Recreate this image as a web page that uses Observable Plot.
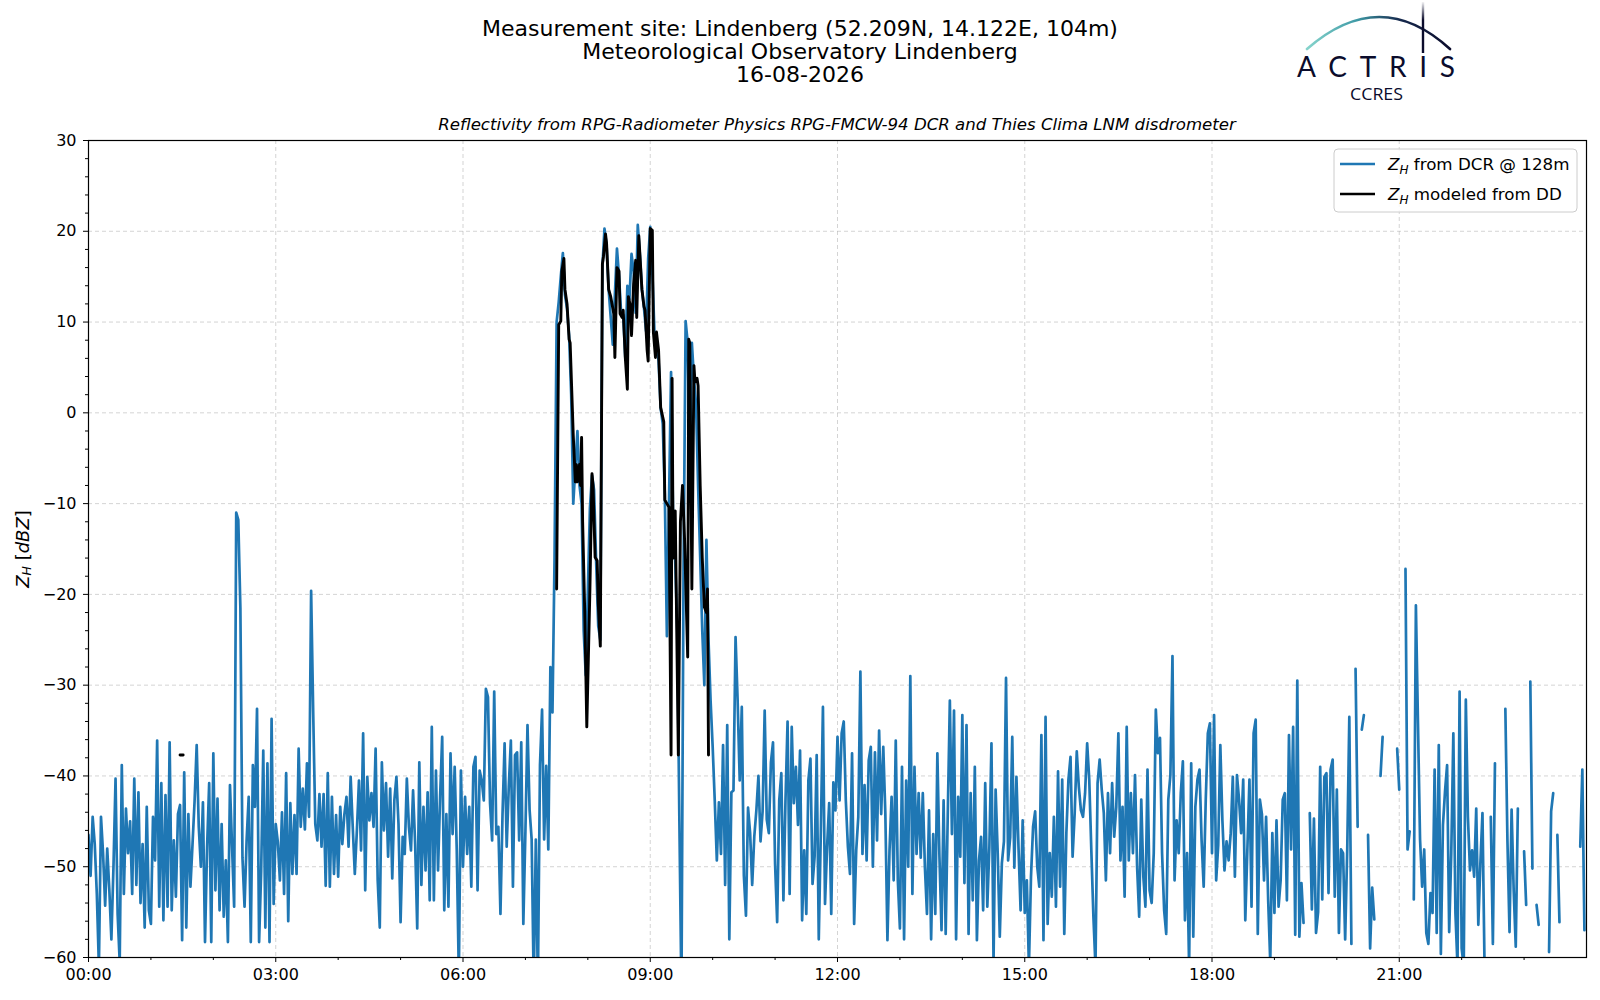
<!DOCTYPE html>
<html>
<head>
<meta charset="utf-8">
<script src="https://cdn.jsdelivr.net/npm/d3@7"></script>
<script src="https://cdn.jsdelivr.net/npm/@observablehq/plot@0.6"></script>
<style>
  html, body { margin: 0; padding: 0; background: #fff; }
  #page { position: relative; width: 1600px; height: 1000px; font-family: "DejaVu Sans", sans-serif; color: #000; }
  #title { position: absolute; left: 0; top: 17px; width: 1600px; text-align: center; font-size: 22px; line-height: 23px; }
  #subtitle { position: absolute; left: 88px; width: 1498px; top: 116px; text-align: center; font-size: 16.6px; line-height: 18px; font-style: italic; z-index: 2; }
  #logo { position: absolute; left: 1280px; top: 0; }
  #chart { position: absolute; left: 0; top: 130px; z-index: 1; }
</style>
</head>
<body>
<div id="page">
  <div id="title">Measurement site: Lindenberg (52.209N, 14.122E, 104m)<br>Meteorological Observatory Lindenberg<br>16-08-2026</div>
  <svg id="logo" width="200" height="110" viewBox="0 0 200 110">
    <defs>
      <linearGradient id="arcg" x1="27" y1="0" x2="170" y2="0" gradientUnits="userSpaceOnUse">
        <stop offset="0" stop-color="#86d4cc"/>
        <stop offset="0.35" stop-color="#3f9aa6"/>
        <stop offset="0.65" stop-color="#16294d"/>
        <stop offset="1" stop-color="#0b0c2c"/>
      </linearGradient>
      <linearGradient id="vg" x1="0" y1="2" x2="0" y2="53" gradientUnits="userSpaceOnUse">
        <stop offset="0" stop-color="#0b0c2c" stop-opacity="0.05"/>
        <stop offset="0.35" stop-color="#0b0c2c" stop-opacity="1"/>
        <stop offset="1" stop-color="#0b0c2c" stop-opacity="1"/>
      </linearGradient>
    </defs>
    <path d="M27 49 Q100 -15 170 49" fill="none" stroke="url(#arcg)" stroke-width="2.6" stroke-linecap="round"/>
    <line x1="143" y1="2" x2="143" y2="53" stroke="url(#vg)" stroke-width="2.4"/>
    <text x="17" y="77" font-family="Lato, 'Open Sans', sans-serif" font-size="28" fill="#0b0c2c" textLength="158" lengthAdjust="spacing">ACTRIS</text>
    <text x="70" y="100" font-family="'Open Sans', Lato, sans-serif" font-size="17" fill="#0b0c2c" textLength="53" lengthAdjust="spacingAndGlyphs">CCRES</text>
  </svg>
  <div id="subtitle">Reflectivity from RPG-Radiometer Physics RPG-FMCW-94 DCR and Thies Clima LNM disdrometer</div>
  <div id="chart"></div>
</div>
<script>
// ---------------- data ----------------
// Z_H from DCR @ 128m, one value every 2 minutes starting 00:00 (null = no data)
const dcrStepMinutes = 2;
const dcrValues = [
  // 00:00
  -46.5, -51, -44.5, -47.5, -53, -61, -44.5, -48.5, -54.3, -48, -52.5, -58, -50, -40.3, -55.2, -60.5, -38.8, -53, -43.6, -48.5, -45, -53, -40.3, -52, -41.8, -54, -47.5, -56.7, -43.4, -54.8,
  // 01:00
  -56.3, -44.5, -49.3, -36.1, -54.4, -40.8, -55.9, -42.1, -54.4, -36.3, -54.8, -47.1, -53.3, -44.2, -43.2, -58.1, -39.6, -56.7, -44.2, -52.2, -47.5, -42.7, -36.6, -45.6, -50, -42.9, -58.3, -47.8, -40.8, -58.3,
  // 02:00
  -37.5, -52.6, -42.5, -54.8, -45.3, -55.5, -49.3, -58.3, -41, -47.8, -54.4, -11, -11.8, -21.5, -49, -54.4, -47.1, -42.3, -58.3, -38.8, -43.4, -32.6, -58.3, -50.4, -37.2, -56.7, -38.6, -58.3, -33.7, -54.1,
  // 03:00
  -45.3, -47.3, -51.5, -44, -53, -39.7, -56, -43, -50.8, -44.3, -50.8, -37, -45.6, -41.4, -45.9, -38.6, -44.5, -19.6, -33, -45.3, -47.1, -42, -47.8, -42, -52.1, -39.7, -52.2, -42.3, -50.8, -44.3,
  // 04:00
  -51.1, -43.4, -47.5, -44.2, -42.3, -47.8, -40.1, -45.6, -50.8, -46, -40.5, -48.2, -35.3, -52.6, -40.1, -44.9, -41.9, -45.6, -37, -51.5, -56.7, -38.5, -46, -40.8, -48.9, -41.4, -51.3, -42.7, -40.1, -45.3,
  // 05:00
  -56.1, -46.7, -48.6, -40.3, -45.6, -48.2, -41.6, -47.5, -56.8, -38.5, -52, -43.4, -50.4, -41.8, -53.7, -34.6, -53.7, -39.4, -50.4, -42.3, -35.7, -54.8, -44.2, -54.4, -37.5, -46.4, -39, -48.2, -62, -39.4,
  // 06:00
  -50, -42.3, -48.6, -43.4, -52.2, -39, -37.9, -52.6, -39.4, -40.5, -42.7, -30.4, -31.3, -43, -47.1, -30.7, -46.4, -45.6, -55.2, -44.2, -36.4, -47.8, -41.2, -36.1, -52.2, -37.7, -37.4, -47.1, -36.3, -56.3,
  // 07:00
  -46.1, -34.4, -43.7, -47, -63, -47, -63, -38.8, -32.7, -47, -38.9, -48.1, -28, -33, -16, 10, 12.2, 15, 17.6, 13, 11.5, 8.5, 2, -10, -6, -2, -8, -10, -24, -28.9,
  // 08:00
  -19.8, -10.5, -6.9, -8.5, -16.5, -23.5, -25, 16, 20.3, 18.5, 13.6, 10.5, 7.5, 13, 18.1, 15, 11, 10.8, 6.1, 14, 12.5, 17.5, 15.6, 11, 20.7, 17.5, 13.6, 11.5, 9, 17,
  // 09:00
  20.5, 15.6, 9, 8, 5.7, 0.5, -1.2, -9, -24.6, -10, 4.5, -12, -16.3, -24, -45, -64, -17.1, 10.1, 7.7, -6, 7.7, 3.8, 1, -8, -15.9, -24, -30, -14, -25, -31.7,
  // 10:00
  -36.8, -42.7, -49.3, -42.9, -48.6, -36.6, -52, -34.4, -58, -41.8, -41.6, -24.7, -31.7, -40.5, -32.4, -51, -55.4, -43.5, -46.3, -52, -46.7, -43.8, -40, -47.2, -43.9, -32.8, -44.8, -46.3, -38.5, -36.3,
  // 11:00
  -49.7, -56.1, -42.7, -39.7, -53.7, -42.7, -34, -53, -34.6, -43, -39, -45.4, -37.2, -55.9, -48.2, -55.2, -40.5, -38.1, -51.9, -48.9, -37.7, -58, -46, -32.4, -54.1, -47.8, -43, -55.2, -40.7, -43.8,
  // 12:00
  -35.7, -42.7, -35.3, -34, -42.7, -47.8, -50.8, -37.5, -56.3, -48.2, -44.5, -28.5, -48.6, -41, -49.3, -38.3, -36.8, -50, -37.4, -47.1, -35, -44.2, -36.8, -44.2, -58.1, -48.2, -42.3, -51.5, -36.1, -51.5,
  // 13:00
  -56.8, -39, -58, -40.5, -50, -29, -53, -39, -48.6, -41.9, -49, -41.9, -50, -55.2, -43.8, -58, -46.4, -55.2, -37.5, -48.9, -57, -42.7, -57.4, -44.2, -31.7, -46.4, -32.8, -58, -42.3, -48.9,
  // 14:00
  -33.3, -51.8, -34.4, -57.4, -41.9, -53.7, -39, -58.1, -49.3, -46.7, -54.8, -40.8, -54.4, -47.8, -36.4, -60.5, -41.5, -48.5, -57.7, -49.6, -47.2, -29.2, -49.3, -46.8, -35.7, -50.1, -40.1, -47.9, -54.8, -44.9,
  // 15:00
  -55.1, -51.5, -61, -51.1, -45.6, -43.9, -50, -52.2, -35.5, -58.1, -33.5, -56.3, -48.5, -53.3, -44.5, -54.4, -39.5, -52.2, -40.4, -57.4, -46.3, -40.4, -37.9, -48.9, -44.1, -37.3, -41.2, -43.8, -44.5, -41.9,
  // 16:00
  -36.4, -40.4, -48.2, -55.5, -61, -40.8, -38.2, -41.5, -44.1, -51.5, -41.9, -48.5, -40.8, -46.7, -43.4, -35.3, -49.3, -43.4, -53.3, -34.6, -49.3, -41.9, -48.5, -39.9, -50, -55.5, -42.6, -51.1, -54.4, -39.3,
  // 17:00
  -52.6, -54, -48.5, -32.7, -37.5, -35.8, -48.5, -54.8, -57.4, -42.6, -39.9, -26.8, -51.5, -44.9, -48.5, -41.9, -38.4, -55.9, -48.5, -61, -38.6, -57.7, -43.4, -40.4, -39.3, -47.1, -52.2, -42.6, -35.3, -34.2,
  // 18:00
  -48.5, -33.3, -51.5, -47.6, -36.6, -44.9, -50.4, -47.2, -49.3, -46.3, -40.1, -51.1, -39.9, -42.6, -46.3, -40.4, -55.9, -48.1, -40.4, -54.4, -35.3, -33.8, -57.4, -42.6, -44.2, -51.5, -44.5, -53.7, -60.5, -46.3,
  // 19:00
  -55.1, -44.9, -54.4, -51.5, -42.6, -41.9, -53.7, -35.5, -48.1, -34.6, -57.5, -29.5, -57.7, -51.8, -56.2, null, null, -44.1, -54.7, -44.7, -57.3, -55, -39, -53.6, -40.1, -39.7, -52.9, -39.3, -38.2, -53.3,
  // 20:00
  -41.5, -57.3, -48.1, -48.5, -58, -48.1, -33.5, -58.5, null, -28.2, -45.6, null, -34.9, -33.3, null, -46.5, -59, -52.3, -55.8, null, null, -40, -35.7, null, null, null, null, null, null, -37,
  // 21:00
  -41.5, null, null, -17.2, -48.1, -46.1, null, -53.6, -21.2, -34.2, -47, -52.2, -48.1, -57.3, -58.5, -52.9, -55.1, -39.3, -57.3, -36.6, -59.6, -45.4, -41.7, -38.8, -57.2, -48.5, -35.3, -55.1, -61, -30.7,
  // 22:00
  -59, -61, -31.6, -44.5, -50.4, -48.2, -51.1, -43.6, -56.4, -49.6, -44.1, -61, null, null, -44.5, -58.5, -38.6, null, null, null, null, -32.6, -47.1, -57.2, -43.7, -52.6, -58.8, -43.6, null, null,
  // 23:00
  -48.3, -54.2, null, -29.6, -50.2, null, -54.2, -56.4, null, null, null, null, -59.4, -43.9, -41.9, null, -46.5, -56.1, null, null, null, null, null, null, null, null, null, -47.8, -39.3, -57
];

// Z_H modeled from disdrometer (DD): times and values (null = break)
const ddTimes = [
  "01:28", "01:31", "07:29",
  "07:30", "07:32", "07:34", "07:35", "07:37", "07:38", "07:40", "07:42", "07:43", "07:46", "07:48", "07:49", "07:50", "07:52", "07:53", "07:54", "07:55", "07:57", "07:59",
  "08:02", "08:04", "08:05", "08:07", "08:09", "08:10", "08:12", "08:14", "08:15", "08:17", "08:18", "08:20", "08:22", "08:25", "08:26", "08:28", "08:30", "08:31", "08:33", "08:34", "08:36", "08:38", "08:39", "08:41", "08:42", "08:44", "08:46", "08:47", "08:49", "08:52", "08:54", "08:55", "08:57", "08:58",
  "09:00", "09:02", "09:03", "09:05", "09:06", "09:08", "09:10", "09:13", "09:14", "09:16", "09:18", "09:20", "09:21", "09:22", "09:24", "09:27", "09:29", "09:31", "09:33", "09:36", "09:37", "09:38", "09:40", "09:42", "09:43", "09:45", "09:46", "09:48", "09:50", "09:52", "09:54", "09:55", "09:56"
];
const ddValues = [
  -37.7, -37.7, null,
  -19.4, 9.7, 10.1, 15.6, 17, 13.6, 12, 8.1, 7.7, -2.5, -7.6, -5.7, -7.6, -5.7, -8, -2.7, -12, -21.8, -34.6,
  -19.4, -6.7, -8, -15.9, -16.3, -21, -25.7, 16.4, 17.2, 19.7, 18.7, 13.6, 12.8, 10.9, 6.1, 16, 15.6, 10.9, 10.5, 11.3, 6.1, 2.6, 12.8, 11.7, 8.5, 14.2, 16.8, 10.5, 19.5, 13.6, 11.7, 11.3, 6.9, 5.7,
  20.3, 20.1, 8.9, 6.1, 8.9, 6.9, 0.6, -1, -9.6, -10, -10.4, -37.7, 3.8, -16, -10.8, -37.7, -12, -8, -14, -26.9, 8.1, 7.7, -19.4, 5.2, 3.4, 3.8, 3, -8, -16, -21.4, -22, -19.4, -37.7
];

// axis ticks
const xMajorTicks = [0, 3, 6, 9, 12, 15, 18, 21];
const xMinorTicks = [1, 2, 4, 5, 7, 8, 10, 11, 13, 14, 16, 17, 19, 20, 22, 23];
const yMajorTicks = [-60, -50, -40, -30, -20, -10, 0, 10, 20, 30];
const yMinorTicks = d3.range(-58, 30, 2).filter(v => v % 10 !== 0);

const seriesNames = ["from DCR @ 128m", "modeled from DD"];
const seriesColors = ["#1f77b4", "#000000"];

// ---------------- build ----------------
const dcr = dcrValues.map((v, i) => ({h: i * dcrStepMinutes / 60, v}));
const parseHM = s => { const [a, b] = s.split(":").map(Number); return a + b / 60; };
const dd = ddTimes.map((t, i) => ({h: parseHM(t), v: ddValues[i]}));

const gridStyle = {stroke: "#b0b0b0", strokeOpacity: 0.55, strokeWidth: 1, strokeDasharray: "4,3"};

const chart = Plot.plot({
  width: 1600,
  height: 867,
  marginLeft: 88,
  marginRight: 14,
  marginTop: 10,
  marginBottom: 40,
  style: {fontFamily: "DejaVu Sans", fontSize: "16px", color: "black", background: "transparent"},
  x: {domain: [0, 24]},
  y: {domain: [-60, 30]},
  marks: [
    Plot.gridX(xMajorTicks, gridStyle),
    Plot.gridY(yMajorTicks, gridStyle),
    Plot.line(dcr, {x: "h", y: "v", stroke: seriesColors[0], strokeWidth: 2.7, clip: true}),
    Plot.line(dd, {x: "h", y: "v", stroke: seriesColors[1], strokeWidth: 2.9, clip: true}),
    Plot.frame({stroke: "black", strokeWidth: 1.2}),
    Plot.axisX(xMajorTicks, {tickSize: 5, tickPadding: 6, fontSize: 16, label: null,
      tickFormat: h => String(h).padStart(2, "0") + ":00"}),
    Plot.axisX(xMinorTicks, {tickSize: 3, label: null, tickFormat: () => ""}),
    Plot.axisY(yMajorTicks, {tickSize: 5, tickPadding: 7, fontSize: 16, label: null}),
    Plot.axisY(yMinorTicks, {tickSize: 3, label: null, tickFormat: () => ""})
  ]
});
document.getElementById("chart").appendChild(chart);

// y-axis label with subscript
const svg = d3.select(chart);
const yl = svg.append("text")
  .attr("transform", "translate(22,419) rotate(-90)")
  .attr("text-anchor", "middle")
  .attr("dominant-baseline", "central")
  .attr("font-family", "DejaVu Sans")
  .attr("font-size", 18)
  .attr("fill", "black");
yl.append("tspan").attr("font-style", "italic").text("Z");
yl.append("tspan").attr("font-style", "italic").attr("font-size", 12.5).attr("dy", 4).text("H");
yl.append("tspan").attr("dy", -4).text(" [");
yl.append("tspan").attr("font-style", "italic").text("dBZ");
yl.append("tspan").text("]");

// legend
const lg = svg.append("g").attr("text-anchor", "start");
lg.append("rect").attr("x", 1334).attr("y", 19).attr("width", 243).attr("height", 63)
  .attr("rx", 4).attr("fill", "white").attr("fill-opacity", 0.8).attr("stroke", "#cccccc").attr("stroke-width", 1);
seriesNames.forEach((name, k) => {
  const y = 34 + k * 30;
  lg.append("line").attr("x1", 1340).attr("x2", 1375).attr("y1", y).attr("y2", y)
    .attr("stroke", seriesColors[k]).attr("stroke-width", 2.7);
  const t = lg.append("text").attr("x", 1388).attr("y", y).attr("dy", "0.36em")
    .attr("text-anchor", "start")
    .attr("font-family", "DejaVu Sans").attr("font-size", 16.7).attr("fill", "black");
  t.append("tspan").attr("font-style", "italic").text("Z");
  t.append("tspan").attr("font-style", "italic").attr("font-size", 12).attr("dy", 4).text("H");
  t.append("tspan").attr("dy", -4).text(" " + name);
});
</script>
</body>
</html>
